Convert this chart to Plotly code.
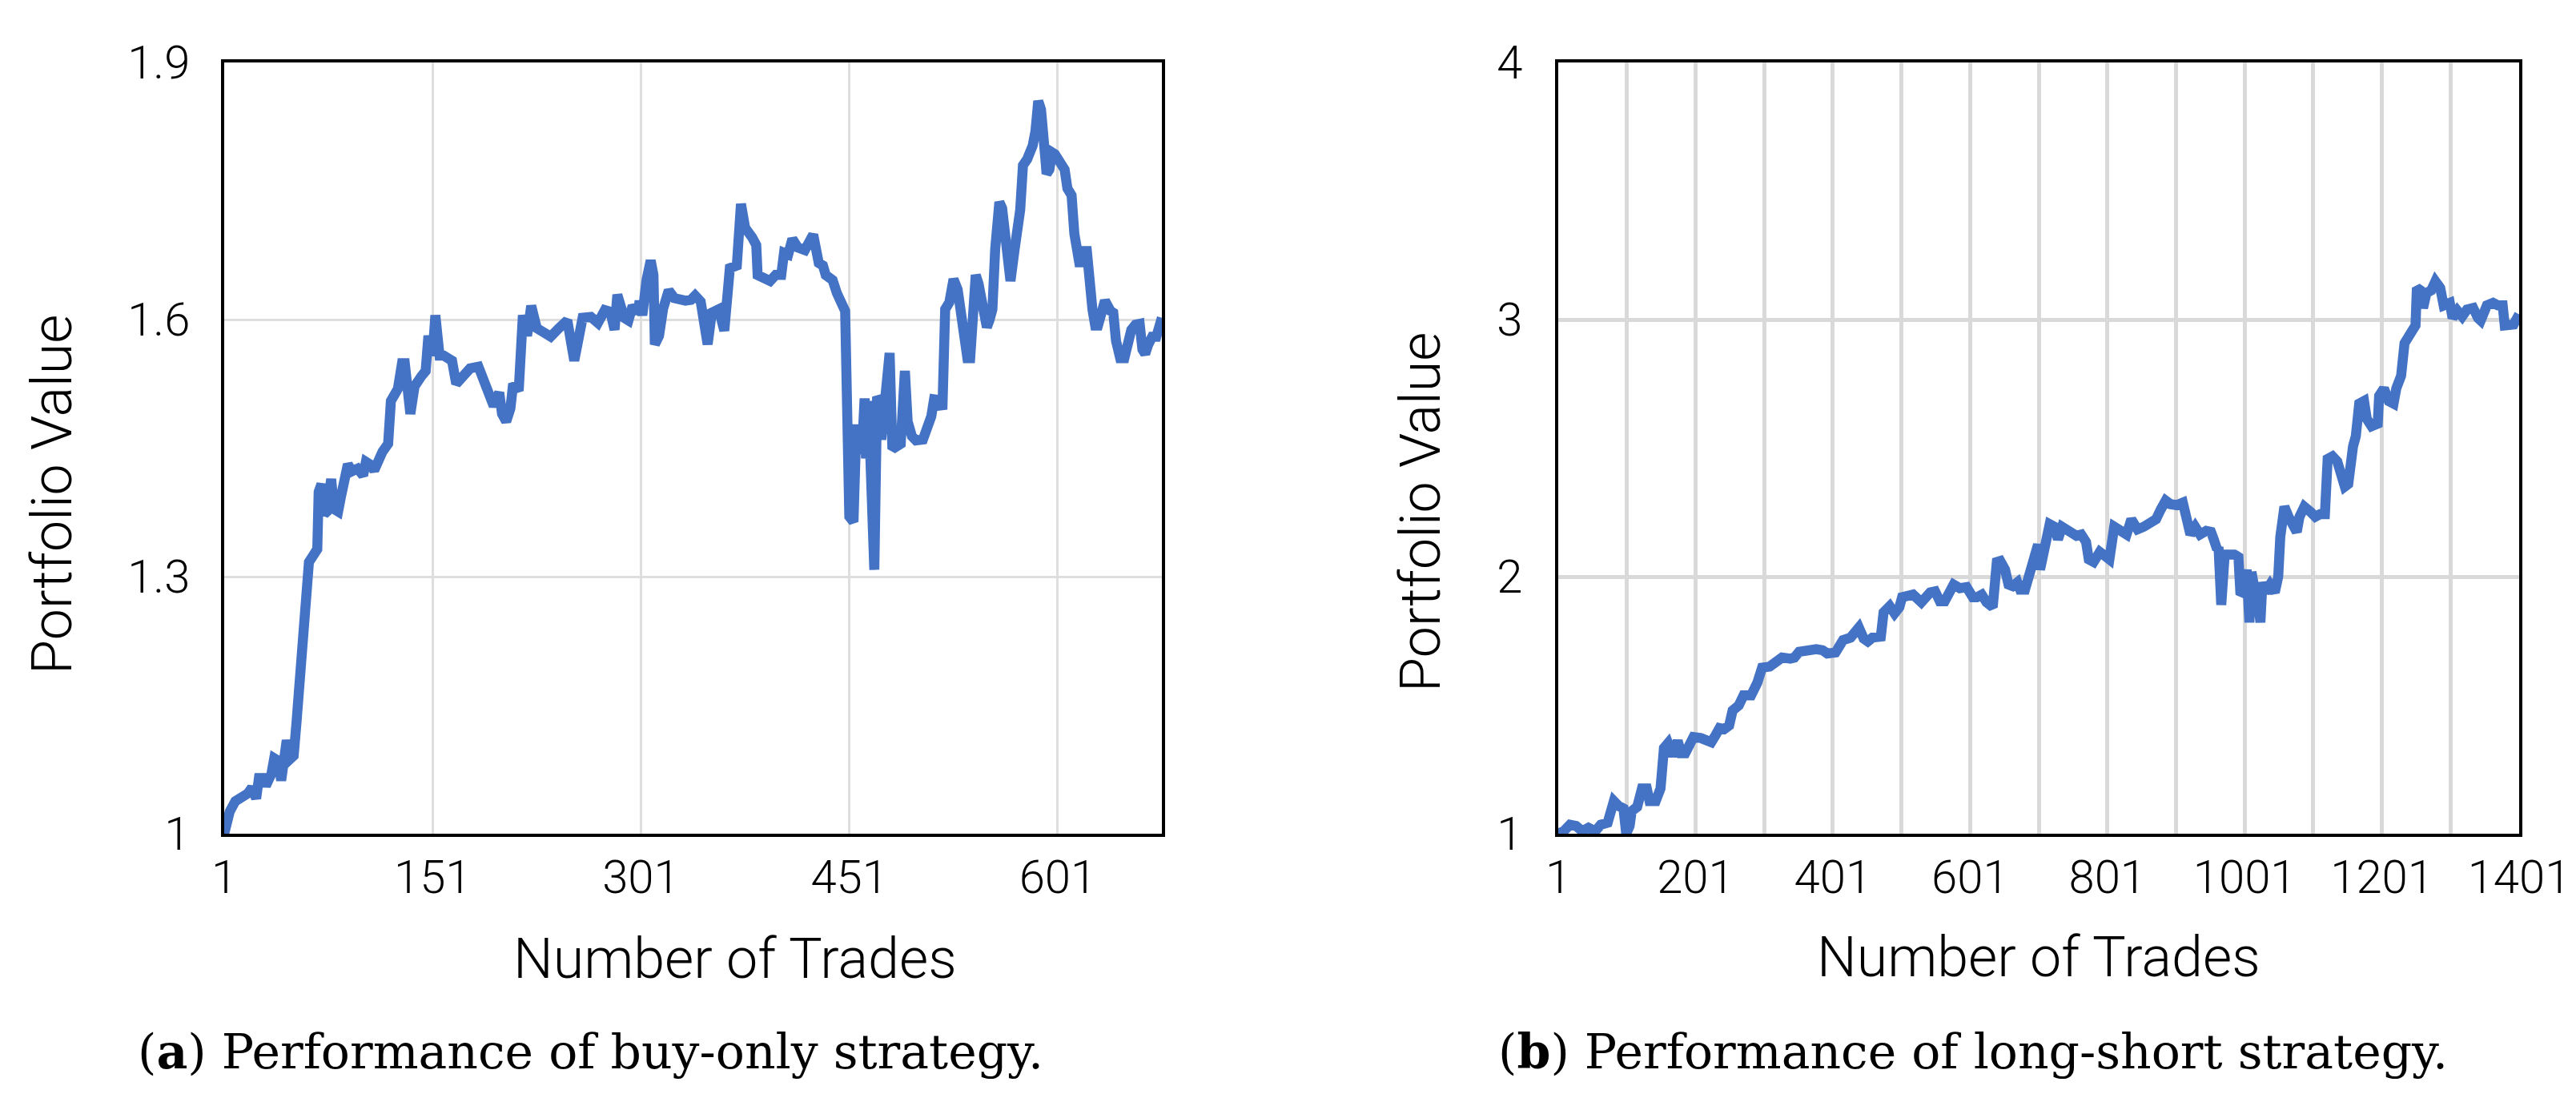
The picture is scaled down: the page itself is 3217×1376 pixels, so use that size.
import plotly.graph_objects as go

# (a) buy-only strategy: trade number and portfolio value
buy_trades = [
    1, 5, 9, 15, 18, 21, 24, 26, 29, 31, 35, 37, 40, 42, 46, 49, 51, 53, 56, 59,
    62, 68, 69, 71, 73, 75, 78, 80, 83, 85, 90, 93, 97, 101, 103, 106, 109, 115, 119, 121,
    126, 129, 131, 135, 138, 143, 146, 148, 151, 153, 156, 159, 165, 168, 172, 178, 184, 188, 193, 195,
    199, 201, 204, 207, 209, 213, 216, 219, 222, 226, 231, 236, 242, 248, 253, 259, 265, 270, 275, 279,
    282, 284, 289, 292, 295, 299, 300, 302, 305, 308, 310, 311, 314, 317, 321, 325, 333, 337, 340, 344,
    349, 352, 357, 361, 365, 370, 373, 376, 381, 384, 385, 390, 394, 398, 402, 404, 407, 410, 414, 419,
    425, 429, 432, 434, 439, 442, 446, 448, 451, 454, 456, 459, 460, 462, 463, 465, 466, 469, 471,
    473, 474, 476, 480, 482, 484, 488, 491, 493, 496, 499, 504, 507, 510, 512, 516, 518, 520, 523, 526,
    529, 532, 536, 538, 540, 542, 544, 548, 550, 552, 554, 556, 559, 561, 563, 565, 567, 570, 572, 574,
    576, 579, 583, 585, 587, 589, 592, 593, 595, 597, 599, 604, 606, 608, 611, 613, 616, 617, 619, 622,
    626, 628, 630, 632, 635, 639, 641, 643, 646, 649, 651, 654, 657, 660, 662, 664, 666, 669, 672, 674,
    676,
]
buy_value = [
    1.000, 1.026, 1.038, 1.044, 1.047, 1.054, 1.041, 1.065, 1.065, 1.056, 1.070, 1.088, 1.085, 1.062, 1.109, 1.088, 1.091, 1.129, 1.205, 1.247,
    1.317, 1.332, 1.399, 1.408, 1.373, 1.376, 1.414, 1.379, 1.376, 1.393, 1.431, 1.423, 1.426, 1.418, 1.434, 1.431, 1.424, 1.446, 1.455, 1.505,
    1.519, 1.549, 1.549, 1.490, 1.522, 1.534, 1.540, 1.581, 1.558, 1.605, 1.558, 1.558, 1.552, 1.525, 1.534, 1.543, 1.545, 1.528, 1.502, 1.499,
    1.515, 1.490, 1.481, 1.496, 1.525, 1.517, 1.605, 1.581, 1.616, 1.590, 1.585, 1.580, 1.590, 1.599, 1.552, 1.602, 1.603, 1.596, 1.611, 1.609,
    1.588, 1.629, 1.602, 1.599, 1.616, 1.608, 1.622, 1.605, 1.646, 1.669, 1.652, 1.571, 1.581, 1.613, 1.634, 1.625, 1.622, 1.623, 1.628, 1.621,
    1.571, 1.608, 1.612, 1.587, 1.660, 1.663, 1.735, 1.707, 1.696, 1.687, 1.652, 1.647, 1.645, 1.652, 1.652, 1.678, 1.676, 1.694, 1.684, 1.681,
    1.699, 1.666, 1.663, 1.652, 1.646, 1.631, 1.619, 1.610, 1.370, 1.364, 1.472, 1.472, 1.443, 1.508, 1.438, 1.505, 1.445, 1.308, 1.510,
    1.505, 1.460, 1.493, 1.561, 1.449, 1.452, 1.455, 1.540, 1.481, 1.464, 1.459, 1.460, 1.475, 1.487, 1.507, 1.506, 1.495, 1.612, 1.620, 1.647,
    1.635, 1.598, 1.555, 1.555, 1.640, 1.652, 1.642, 1.605, 1.591, 1.600, 1.612, 1.682, 1.737, 1.730, 1.690, 1.650, 1.645, 1.682, 1.703, 1.728,
    1.780, 1.787, 1.803, 1.820, 1.855, 1.845, 1.790, 1.770, 1.775, 1.795, 1.793, 1.782, 1.775, 1.753, 1.745, 1.700, 1.675, 1.662, 1.680, 1.680,
    1.612, 1.593, 1.593, 1.605, 1.622, 1.610, 1.608, 1.575, 1.555, 1.555, 1.573, 1.588, 1.594, 1.595, 1.565, 1.560, 1.570, 1.580, 1.580, 1.597,
    1.602,
]

# (b) long-short strategy
ls_trades = [
    1, 9, 18, 27, 36, 45, 55, 63, 73, 82, 89, 96, 100, 105, 108, 116, 123, 130, 134, 143,
    150, 155, 161, 168, 175, 180, 186, 198, 209, 218, 224, 230, 236, 243, 250, 255, 264, 271, 282, 291,
    298, 309, 318, 327, 339, 345, 352, 364, 377, 386, 393, 405, 411, 416, 427, 439, 446, 452, 459, 471,
    475, 484, 491, 498, 502, 511, 518, 530, 536, 543, 550, 557, 564, 571, 577, 586, 596, 605, 611, 618,
    625, 634, 640, 645, 652, 657, 663, 670, 674, 681, 688, 697, 700, 703, 717, 724, 729, 735, 742, 749,
    756, 763, 770, 774, 781, 790, 797, 804, 811, 820, 829, 836, 845, 854, 863, 872, 879, 886, 893, 902,
    911, 918, 922, 929, 936, 945, 952, 956, 961, 963, 967, 972, 979, 986, 992, 995, 999, 1004, 1008, 1011,
    1015, 1020, 1024, 1027, 1031, 1038, 1045, 1050, 1053, 1059, 1065, 1070, 1077, 1081, 1088, 1097, 1104, 1111, 1118, 1122,
    1129, 1136, 1143, 1147, 1152, 1154, 1159, 1163, 1168, 1175, 1179, 1186, 1195, 1197, 1204, 1211, 1218, 1222, 1229, 1234,
    1243, 1250, 1252, 1257, 1261, 1266, 1273, 1279, 1286, 1291, 1300, 1304, 1311, 1318, 1325, 1334, 1341, 1345, 1354, 1363,
    1370, 1377, 1380, 1386, 1393, 1401,
]
ls_value = [
    1.000, 1.010, 1.035, 1.030, 1.010, 1.023, 1.010, 1.035, 1.043, 1.127, 1.108, 1.098, 1.000, 1.030, 1.088, 1.104, 1.176, 1.176, 1.127, 1.127,
    1.176, 1.333, 1.352, 1.303, 1.362, 1.313, 1.313, 1.376, 1.372, 1.368, 1.356, 1.382, 1.411, 1.407, 1.421, 1.479, 1.499, 1.538, 1.538, 1.587,
    1.646, 1.650, 1.665, 1.685, 1.681, 1.685, 1.708, 1.714, 1.718, 1.714, 1.701, 1.705, 1.724, 1.753, 1.763, 1.802, 1.759, 1.748, 1.763, 1.767,
    1.861, 1.885, 1.857, 1.881, 1.920, 1.924, 1.930, 1.900, 1.924, 1.939, 1.943, 1.904, 1.904, 1.949, 1.969, 1.955, 1.959, 1.920, 1.920, 1.930,
    1.900, 1.881, 2.057, 2.061, 2.027, 1.969, 1.963, 1.978, 1.949, 1.949, 2.018, 2.106, 2.125, 2.027, 2.204, 2.194, 2.145, 2.194, 2.184, 2.170,
    2.159, 2.164, 2.135, 2.067, 2.057, 2.096, 2.086, 2.067, 2.194, 2.174, 2.164, 2.223, 2.184, 2.194, 2.204, 2.223, 2.262, 2.296, 2.282, 2.278,
    2.288, 2.204, 2.164, 2.194, 2.164, 2.178, 2.174, 2.145, 2.106, 2.115, 1.890, 2.086, 2.086, 2.086, 2.076, 1.930, 1.939, 2.027, 1.822, 2.018,
    1.959, 1.920, 1.822, 1.978, 1.939, 1.969, 1.939, 2.000, 2.155, 2.272, 2.233, 2.204, 2.174, 2.233, 2.272, 2.252, 2.233, 2.243, 2.243, 2.458,
    2.468, 2.448, 2.389, 2.350, 2.360, 2.429, 2.507, 2.546, 2.673, 2.683, 2.614, 2.585, 2.595, 2.703, 2.732, 2.683, 2.673, 2.732, 2.781, 2.908,
    2.941, 2.977, 3.123, 3.114, 3.045, 3.104, 3.114, 3.149, 3.123, 3.055, 3.065, 3.006, 3.035, 3.012, 3.039, 3.045, 3.006, 2.996, 3.055, 3.065,
    3.055, 3.055, 2.977, 2.977, 2.981, 3.020,
]

buy_xticks = [1, 151, 301, 451, 601]
buy_yticks = [1, 1.3, 1.6, 1.9]
ls_xticks = list(range(1, 1402, 100))
ls_xlabels = [str(v) if (v - 1) % 200 == 0 else "" for v in ls_xticks]
ls_yticks = [1, 2, 3, 4]

W, H = 3217, 1376
BLUE = "#4472C4"
TICK_FONT = dict(family="Roboto", size=58, color="black", weight=300)
TITLE_FONT = dict(family="Roboto", size=70, color="black", weight=300)
CAP_FONT = dict(family="DejaVu Serif", size=60, color="black")


def px(x):
    return x / W


def py(y):
    return 1 - y / H


fig = go.Figure()
fig.add_trace(go.Scatter(x=buy_trades, y=buy_value, mode="lines",
                         line=dict(color=BLUE, width=12.5), xaxis="x", yaxis="y"))
fig.add_trace(go.Scatter(x=ls_trades, y=ls_value, mode="lines",
                         line=dict(color=BLUE, width=12.5), xaxis="x2", yaxis="y2"))

frame = dict(showline=True, linecolor="black", linewidth=4, mirror=True,
             zeroline=False, ticks="", tickfont=TICK_FONT, automargin=False)

fig.update_layout(
    width=W, height=H,
    margin=dict(l=0, r=0, t=0, b=0, pad=0, autoexpand=False),
    paper_bgcolor="white", plot_bgcolor="white",
    showlegend=False,
    xaxis=dict(domain=[px(272), px(1443)], range=[1, 676], tickvals=buy_xticks,
               showgrid=True, gridcolor="#dedede", gridwidth=3,
               ticklabelstandoff=0, **frame),
    yaxis=dict(domain=[py(1033), py(70)], range=[1, 1.9], tickvals=buy_yticks,
               ticktext=[str(v) for v in buy_yticks],
               showgrid=True, gridcolor="#dedede", gridwidth=3,
               ticklabelstandoff=27, **frame),
    xaxis2=dict(domain=[px(1938), px(3138)], range=[1, 1401], tickvals=ls_xticks,
                ticktext=ls_xlabels, anchor="y2",
                showgrid=True, gridcolor="#d9d9d9", gridwidth=4.5,
                ticklabelstandoff=0, **frame),
    yaxis2=dict(domain=[py(1033), py(70)], range=[1, 4], tickvals=ls_yticks,
                anchor="x2", showgrid=True, gridcolor="#d9d9d9", gridwidth=4.5,
                ticklabelstandoff=29, **frame),
)

annotations = [
    dict(text="Portfolio Value", x=px(57), y=py(610), textangle=-90, font=TITLE_FONT),
    dict(text="Portfolio Value", x=px(1766), y=py(632), textangle=-90, font=TITLE_FONT),
    dict(text="Number of Trades", x=px(910), y=py(1189), font=TITLE_FONT),
    dict(text="Number of Trades", x=px(2538), y=py(1187), font=TITLE_FONT),
    dict(text="(<b>a</b>) Performance of buy-only strategy.", x=px(729), y=py(1305), font=CAP_FONT),
    dict(text="(<b>b</b>) Performance of long-short strategy.", x=px(2456), y=py(1305), font=CAP_FONT),
]
for a in annotations:
    fig.add_annotation(xref="paper", yref="paper", showarrow=False,
                       xanchor="center", yanchor="middle", **a)

fig.write_html("out.html")
